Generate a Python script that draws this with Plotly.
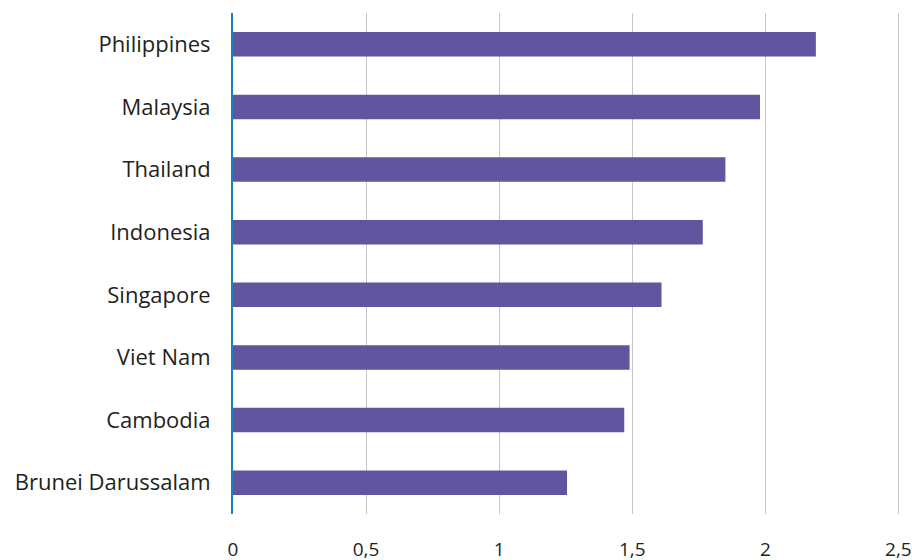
import plotly.graph_objects as go

countries = ["Philippines", "Malaysia", "Thailand", "Indonesia", "Singapore",
             "Viet Nam", "Cambodia", "Brunei Darussalam"]
values = [2.19, 1.98, 1.85, 1.765, 1.61, 1.49, 1.47, 1.255]
tick_vals = [0, 0.5, 1, 1.5, 2, 2.5]
tick_text = ["0", "0,5", "1", "1,5", "2", "2,5"]

fig = go.Figure(go.Bar(
    x=values, y=countries, orientation="h",
    marker=dict(color="#62559f", line=dict(width=0)),
))

fig.update_layout(
    width=912, height=560,
    margin=dict(l=233, r=12, t=13, b=46),
    paper_bgcolor="white", plot_bgcolor="white",
    bargap=0.61,
    showlegend=False,
    font=dict(family="Open Sans", size=20, color="#231f20"),
    xaxis=dict(
        range=[0, 2.506], tickvals=tick_vals, ticktext=tick_text,
        showgrid=True, gridcolor="#c6c6c6", gridwidth=1,
        zeroline=False, showline=False, automargin=False,
        ticks="outside", ticklen=18, tickcolor="rgba(0,0,0,0)",
        tickfont=dict(size=19), ticklabeloverflow="allow",
    ),
    yaxis=dict(
        categoryorder="array", categoryarray=countries[::-1],
        showgrid=False, zeroline=False, automargin=False,
        showline=True, linecolor="#1f7fc0", linewidth=2,
        ticks="outside", ticklen=16, tickcolor="rgba(0,0,0,0)",
        tickfont=dict(size=22),
    ),
)

fig.write_html(
    "out.html",
    config={"displayModeBar": False},
    post_script="document.body.style.margin='0';document.body.style.overflow='hidden';",
)
